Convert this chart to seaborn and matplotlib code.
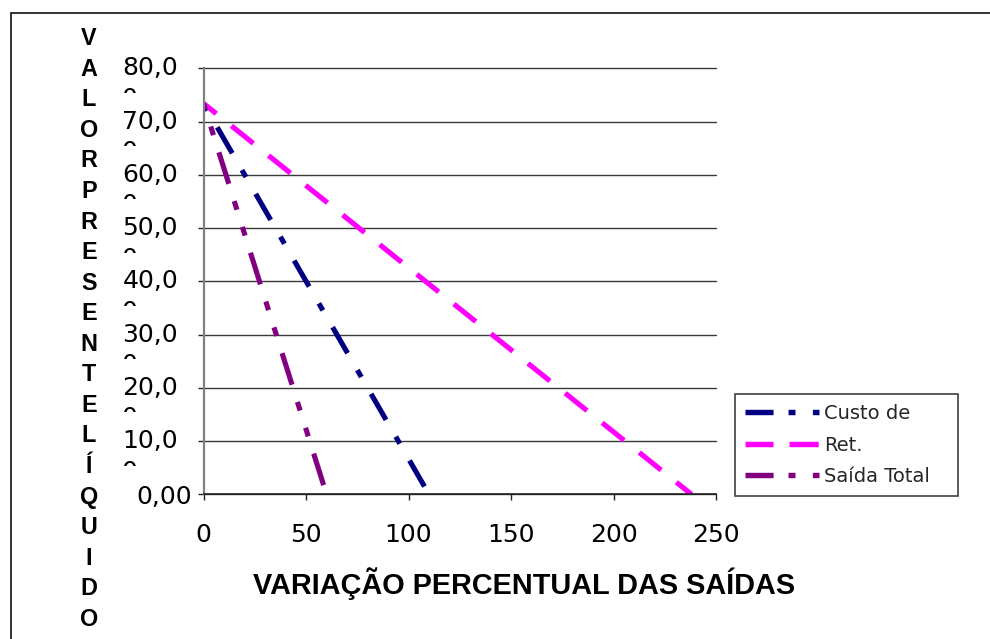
import matplotlib
matplotlib.use("Agg")
import matplotlib.pyplot as plt
import seaborn as sns
import pandas as pd
from matplotlib.lines import Line2D
from matplotlib.patches import Rectangle
from matplotlib.transforms import ScaledTranslation, Bbox

# Valor presente líquido versus variação percentual das saídas
custo_x = [0, 110]
custo_y = [73.4, 0.0]
ret_x = [0, 238]
ret_y = [73.4, 0.0]
saida_x = [0, 60]
saida_y = [73.4, 0.0]

series_names = ["Custo de", "Ret.", "Saída Total"]
y_ticks = [0, 10, 20, 30, 40, 50, 60, 70, 80]
y_tick_labels = ["0,00", "10,0", "20,0", "30,0", "40,0", "50,0", "60,0", "70,0", "80,0"]
x_ticks = [0, 50, 100, 150, 200, 250]
x_tick_labels = ["0", "50", "100", "150", "200", "250"]
x_title = "VARIAÇÃO PERCENTUAL DAS SAÍDAS"
y_title = "VALORPRESENTELÍQUIDO"

sns.set_theme(style="white")
plt.rcParams["font.family"] = ["Liberation Sans", "DejaVu Sans"]
plt.rcParams["lines.scale_dashes"] = False

W, H = 990, 639
fig = plt.figure(figsize=(W / 100, H / 100), dpi=100)
fig.patch.set_facecolor("white")
ax = fig.add_axes([203.5 / W, 1 - 494.3 / H, (716 - 203.5) / W, (494.3 - 68.3) / H])

colors = ["#000080", "#FF00FF", "#800080"]
# dash patterns (points): long-dash-dot, long dash, long-dash-dot-dot
styles = [
    (35.6, (21.6, 14.0, 5.8, 14.0)),
    (8.4, (20.2, 14.0)),
    (38.9, (23.8, 13.0, 6.5, 13.0, 6.5, 13.0)),
]
series = [(custo_x, custo_y), (ret_x, ret_y), (saida_x, saida_y)]

for (xs, ys), name, c, ls in zip(series, series_names, colors, styles):
    df = pd.DataFrame({"pct": xs, "vpl": ys})
    sns.lineplot(data=df, x="pct", y="vpl", ax=ax, color=c, lw=3.7, legend=False)
    line = ax.lines[-1]
    line.set_linestyle(ls)
    line.set_dash_capstyle("butt")

ax.set_xlim(0, 250)
ax.set_ylim(0, 80)
ax.set_xlabel("")
ax.set_ylabel("")
ax.set_xticks(x_ticks)
ax.set_xticklabels(x_tick_labels, fontfamily="DejaVu Sans", fontsize=18, color="black")
ax.set_yticks(y_ticks)
ax.tick_params(axis="x", bottom=True, direction="out", length=4.5, width=1.0,
               color="#222222", pad=16)
ax.tick_params(axis="y", left=True, direction="out", length=4.5, width=1.0,
               color="#222222", labelleft=False)

ax.yaxis.grid(True, color="#3a3a3a", lw=1.0)
ax.xaxis.grid(False)
for gl in ax.get_ygridlines():
    gl.set_clip_on(False)

for side in ("top", "right"):
    ax.spines[side].set_visible(False)
ax.spines["left"].set_color("#808080")
ax.spines["left"].set_linewidth(1.6)
ax.spines["bottom"].set_color("#1a1a1a")
ax.spines["bottom"].set_linewidth(1.1)

# y tick labels, with the clipped second line under each one
ytrans = ax.get_yaxis_transform()
for v, lab in zip(y_ticks, y_tick_labels):
    if v == 0:
        off = ScaledTranslation(-11.5 / 100, -2.5 / 100, fig.dpi_scale_trans)
    else:
        off = ScaledTranslation(-25.5 / 100, 0, fig.dpi_scale_trans)
    fig.text(0, v, lab, transform=ytrans + off, ha="right", va="center",
             fontsize=18, family="DejaVu Sans", color="black")
    if v > 0:
        y_disp = ax.transData.transform((0, v))[1]
        off2 = ScaledTranslation(-82.5 / 100, -37.5 / 100, fig.dpi_scale_trans)
        t = fig.text(0, v, "0", transform=ytrans + off2, ha="left", va="baseline",
                     fontsize=18, family="DejaVu Sans", color="black")
        t.set_clip_box(Bbox.from_extents(100, y_disp - 24.5, 200, y_disp - 19.0))
        t.set_clip_on(True)

fig.text(524 / W, 1 - 594 / H, x_title, ha="center", va="baseline",
         fontsize=20.8, fontweight="bold", color="black")
fig.text(89 / W, 1 - 329 / H, "\n".join(y_title), ha="center", va="center",
         ma="center", fontsize=16.8, fontweight="bold", linespacing=1.42, color="black")

leg_handles = [
    Line2D([], [], color=colors[0], lw=3.9, dash_capstyle="butt",
           linestyle=(0, (20.2, 10.8, 5.0, 12.5, 5.0, 20.0))),
    Line2D([], [], color=colors[1], lw=3.9, dash_capstyle="butt",
           linestyle=(0, (20.2, 11.5, 21.0, 20.0))),
    Line2D([], [], color=colors[2], lw=3.9, dash_capstyle="butt",
           linestyle=(0, (20.2, 10.8, 5.0, 12.5, 5.0, 20.0))),
]
leg = fig.legend(leg_handles, series_names, loc="upper left",
                 bbox_to_anchor=(735 / W, 1 - 497 / H, 223 / W, 103 / H),
                 mode="expand", borderaxespad=0, prop={"family": "DejaVu Sans", "size": 14},
                 handlelength=3.8, handletextpad=0.25, labelspacing=0.64,
                 borderpad=0.52, frameon=True, fancybox=False, framealpha=1)
leg.get_frame().set_edgecolor("#404040")
leg.get_frame().set_linewidth(1.2)

# outer chart-area border
fig.patches.append(Rectangle((10.5 / W, -0.5), 2.0, 0.5 + 1 - 13 / H,
                             transform=fig.transFigure, fill=False, lw=1.2,
                             ec="#111111", clip_on=False))

fig.savefig("out.png", dpi=100, facecolor="white")
